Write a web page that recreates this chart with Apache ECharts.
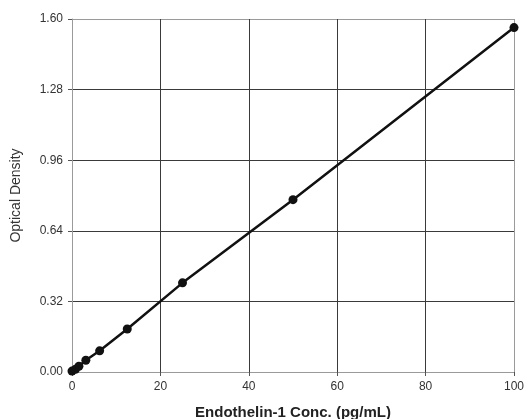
<!DOCTYPE html>
<html>
<head>
<meta charset="utf-8">
<script src="https://cdn.jsdelivr.net/npm/echarts@6/dist/echarts.min.js"></script>
<style>
  html, body { margin: 0; padding: 0; background: #fff; }
  #main { width: 524px; height: 419px; }
</style>
</head>
<body>
<div id="main"></div>
<script>
// standard curve points
var conc = [0, 0.78, 1.56, 3.13, 6.25, 12.5, 25, 50, 100];
var od = [0.004, 0.012, 0.026, 0.053, 0.096, 0.195, 0.404, 0.781, 1.561];

var xTitle = 'Endothelin-1 Conc. (pg/mL)';
var yTitle = 'Optical Density';

var points = conc.map(function (c, i) { return [c, od[i]]; });

var myChart = echarts.init(document.getElementById('main'));
var gridColors = ['#9a9a9a', '#3a3a3a', '#3a3a3a', '#3a3a3a', '#3a3a3a', '#9a9a9a'];

option = {
    animation: false,
    grid: {
        left: 72,
        right: 10,
        top: 19,
        bottom: 47,
        show: false,
        containLabel: false,
        outerBoundsMode: 'none'
    },
    xAxis: {
        type: 'value',
        min: 0,
        max: 100,
        interval: 20,
        name: xTitle,
        nameLocation: 'middle',
        nameGap: 33,
        nameTextStyle: {
            fontFamily: 'Liberation Sans',
            fontWeight: 'bold',
            fontSize: 15,
            color: '#222'
        },
        axisLine: { show: true, lineStyle: { color: '#9a9a9a', width: 1 } },
        axisTick: { show: true, length: 4, lineStyle: { color: '#555' } },
        axisLabel: {
            fontFamily: 'Liberation Sans',
            fontSize: 12,
            color: '#333',
            margin: 9
        },
        splitLine: { show: true, lineStyle: { color: gridColors, width: 1 } }
    },
    yAxis: {
        type: 'value',
        min: 0,
        max: 1.6,
        interval: 0.32,
        name: yTitle,
        nameLocation: 'middle',
        nameGap: 49,
        nameTextStyle: {
            fontFamily: 'Liberation Sans',
            fontSize: 14,
            color: '#333'
        },
        axisLine: { show: true, lineStyle: { color: '#9a9a9a', width: 1 } },
        axisTick: { show: true, length: 4, lineStyle: { color: '#555' } },
        axisLabel: {
            fontFamily: 'Liberation Sans',
            fontSize: 12,
            color: '#333',
            margin: 9,
            formatter: function (v) { return v.toFixed(2); }
        },
        splitLine: { show: true, lineStyle: { color: gridColors, width: 1 } }
    },
    series: [{
        name: 'Standard',
        type: 'line',
        data: points,
        symbol: 'circle',
        symbolSize: 9,
        itemStyle: { color: '#111' },
        lineStyle: { color: '#111', width: 2.5 },
        z: 5
    }]
};

myChart.setOption(option);
</script>
</body>
</html>
